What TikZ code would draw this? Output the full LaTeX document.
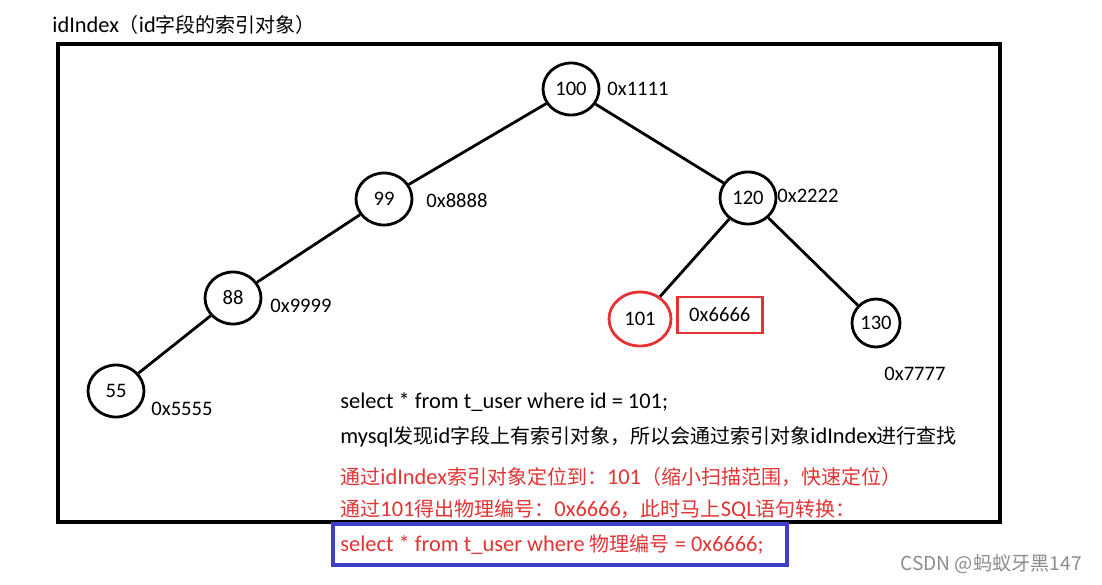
\documentclass[tikz,border=0pt]{standalone}
\usepackage{fontspec}
\setmainfont[Scale=1.12]{Carlito}
\newfontfamily\cjk{Noto Sans CJK SC}
\usetikzlibrary{shapes.geometric}
\definecolor{hitred}{RGB}{226,52,52}
\definecolor{boxblue}{RGB}{62,62,200}
\newcommand{\zh}[1]{{\cjk #1}}
\begin{document}
\begin{tikzpicture}[x=0.5pt,y=-0.5pt,
    keynode/.style={ellipse, draw, line width=1.4pt, minimum width=28pt, minimum height=26pt, inner sep=0pt, font=\fontsize{9.2}{11}\selectfont},
    addr/.style={anchor=west, inner sep=0pt, font=\fontsize{9.2}{11}\selectfont},
    sqlline/.style={anchor=base west, inner sep=0pt, font=\fontsize{10}{12}\selectfont},
    edge/.style={line width=1.4pt}]
    \useasboundingbox[fill=white] (0,0) rectangle (1102,584);
    \node[sqlline] (title) at (52,32) {idIndex\zh{（}id\zh{字段的索引对象）}};
    \draw[line width=1.6pt] (58,44) rectangle (1000,522);
    % the index tree
    \node[keynode] (n100) at (571,89) {100};
    \node[keynode] (n99) at (384,199) {99};
    \node[keynode] (n120) at (748,198) {120};
    \node[keynode] (n88) at (233,298) {88};
    \node[keynode] (n55) at (116,391) {55};
    \node[keynode, draw=hitred, minimum width=31pt, minimum height=27pt] (n101) at (640,319) {101};
    \node[keynode, minimum width=24pt, minimum height=24pt] (n130) at (876,323) {130};
    \draw[edge] (n100) -- (n99);
    \draw[edge] (n100) -- (n120);
    \draw[edge] (n99) -- (n88);
    \draw[edge] (n88) -- (n55);
    \draw[edge] (n120) -- (n101);
    \draw[edge] (n120) -- (n130);
    % addresses
    \node[addr] (a100) at (607,89) {0x1111};
    \node[addr] (a99) at (426,201) {0x8888};
    \node[addr] (a120) at (777,196) {0x2222};
    \node[addr] (a88) at (270,306) {0x9999};
    \node[addr] (a55) at (151,409) {0x5555};
    \node[addr] (a130) at (884,374) {0x7777};
    \node[addr, draw=hitred, line width=1.3pt, minimum width=42.5pt, minimum height=18pt, inner sep=3pt] (a101) at (676,315) {0x6666};
    % explanation
    \node[sqlline] (q1) at (340,408) {select * from t\_user where id = 101;};
    \node[sqlline] (q2) at (340,443) {mysql\zh{发现}id\zh{字段上有索引对象，所以会通过索引对象}idIndex\zh{进行查找}};
    \node[sqlline, text=hitred] (q3) at (340,484) {\zh{通过}idIndex\zh{索引对象定位到：}101\zh{（缩小扫描范围，快速定位）}};
    \node[sqlline, text=hitred] (q4) at (340,516) {\zh{通过}101\zh{得出物理编号：}0x6666\zh{，此时马上}SQL\zh{语句转换：}};
    \draw[boxblue, line width=1.6pt] (333,524) rectangle (787,565);
    \node[sqlline, text=hitred] (q5) at (340,551) {select * from t\_user where \zh{物理编号} = 0x6666;};
    \node[sqlline, text=black!45, font=\cjk\fontsize{9.6}{11}\selectfont] (mark) at (900,570) {CSDN @蚂蚁牙黑147};
\end{tikzpicture}
\end{document}
